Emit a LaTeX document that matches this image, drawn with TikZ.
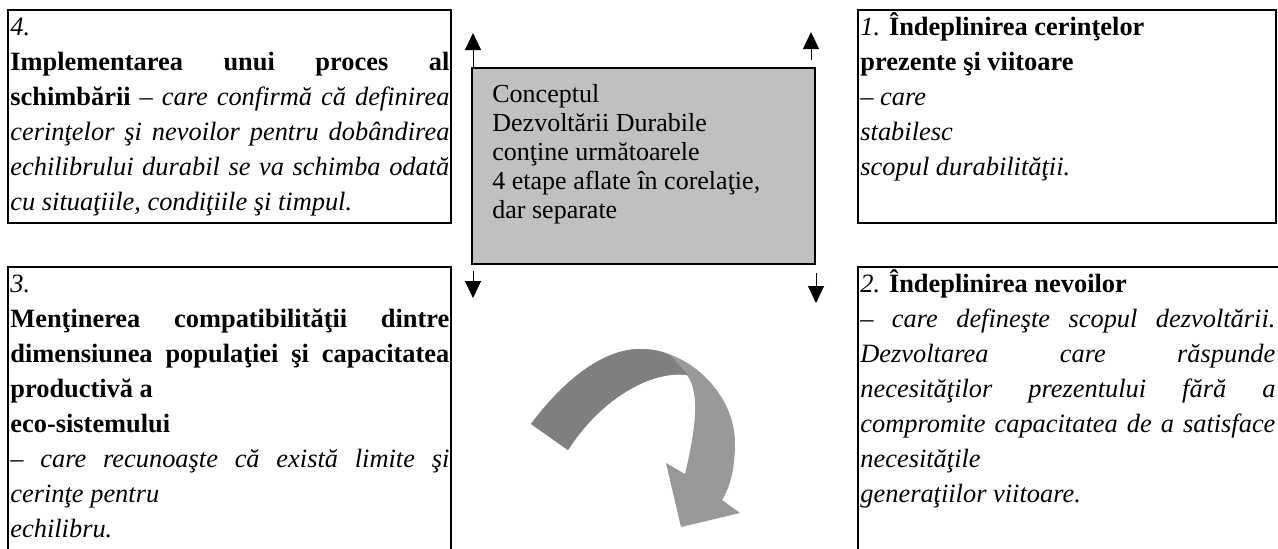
\documentclass[tikz,border=0pt]{standalone}
\usepackage{fontspec}
\setmainfont{Liberation Serif}
\usetikzlibrary{arrows.meta}

\definecolor{conceptgray}{HTML}{C0C0C0}
\definecolor{flowdark}{HTML}{7F7F7F}
\definecolor{flowlight}{HTML}{999999}

\tikzset{
  stagebox/.style={draw, line width=1.2pt},
  stagetext/.style={anchor=north west, inner sep=0pt, align=justify,
    font=\fontsize{13.2}{17.5}\selectfont},
  tinyarrow/.style={line width=0.5pt, -{Triangle[width=8pt,length=8.5pt]}}
}

\begin{document}
\begin{tikzpicture}[x=0.5pt, y=-0.5pt]
\useasboundingbox (0,0) rectangle (1278,548);
\clip (0,0) rectangle (1278,548);

% the four stages
\draw[stagebox] (8,10) rectangle (451,223);
\draw[stagebox] (858,10) rectangle (1276,223);
\draw[stagebox] (8,267) rectangle (451,600);
\draw[stagebox] (858,267) rectangle (1290,600);

\node[stagetext, text width=219.5pt] (stage4) at (10,10.5) {\strut\textit{4.}\\
\textbf{Implementarea unui proces al}\linebreak
\textbf{schimbării} \textit{– care confirmă că definirea}\linebreak
\textit{cerinţelor şi nevoilor pentru dobândirea}\linebreak
\textit{echilibrului durabil se va schimba odată}\linebreak
\textit{cu situaţiile, condiţiile şi timpul.}};

\node[stagetext, text width=207.5pt] (stage1) at (860,10.5) {\strut\textit{1.} \textbf{Îndeplinirea cerinţelor}\\
\textbf{prezente şi viitoare}\\
\textit{– care}\\
\textit{stabilesc}\\
\textit{scopul durabilităţii.}};

\node[stagetext, text width=219.5pt] (stage3) at (10,267.5) {\strut\textit{3.}\\
\textbf{Menţinerea compatibilităţii dintre}\linebreak
\textbf{dimensiunea populaţiei şi capacitatea}\linebreak
\textbf{productivă a}\\
\textbf{eco-sistemului}\\
\textit{– care recunoaşte că există limite şi}\linebreak
\textit{cerinţe pentru}\\
\textit{echilibru.}};

\node[stagetext, text width=207.5pt] (stage2) at (860,267.5) {\strut\textit{2.} \textbf{Îndeplinirea nevoilor}\\
\textit{– care defineşte scopul dezvoltării.}\linebreak
\textit{Dezvoltarea care răspunde}\linebreak
\textit{necesităţilor prezentului fără a}\linebreak
\textit{compromite capacitatea de a satisface}\linebreak
\textit{necesităţile}\\
\textit{generaţiilor viitoare.}};

% the concept in the middle
\node[draw, line width=0.8pt, fill=conceptgray, inner sep=0pt, anchor=north west,
  minimum width=171.5pt, minimum height=98pt] (concept) at (471,67) {};
\node[anchor=north west, inner sep=0pt, align=left,
  font=\fontsize{13}{14.5}\selectfont] (concepttext) at (492,81.5)
  {\strut Conceptul\\Dezvoltării Durabile\\conţine următoarele\\4 etape aflate în corelaţie,\\dar separate};

\coordinate (tip4) at (473,33);
\coordinate (tip1) at (811,32);
\coordinate (tip3) at (473,298);
\coordinate (tip2) at (816,303);
\coordinate (foot1) at (811,60);
\coordinate (foot2) at (816,273);

\draw[tinyarrow] ([xshift=1pt]concept.north west) -- (tip4);
\draw[tinyarrow] (foot1) -- (tip1);
\draw[tinyarrow] ([xshift=1pt,yshift=-3pt]concept.south west) -- (tip3);
\draw[tinyarrow] (foot2) -- (tip2);

% turning arrow
\fill[flowlight] (531,424) .. controls (560,385) and (600,349) .. (640,349)
  .. controls (690,349) and (735,395) .. (735,443)
  .. controls (735,468) and (730,488) .. (722,500) -- (740,513) -- (681,527) -- (666,463) -- (685,474)
  .. controls (693,440) and (702,395) .. (687,375)
  .. controls (650,370) and (600,400) .. (568,450) -- cycle;
\fill[flowdark] (531,424) .. controls (560,385) and (600,349) .. (640,349)
  .. controls (652,349) and (662,351) .. (670,355) -- (688,375)
  .. controls (650,370) and (600,400) .. (568,450) -- cycle;
\end{tikzpicture}
\end{document}
